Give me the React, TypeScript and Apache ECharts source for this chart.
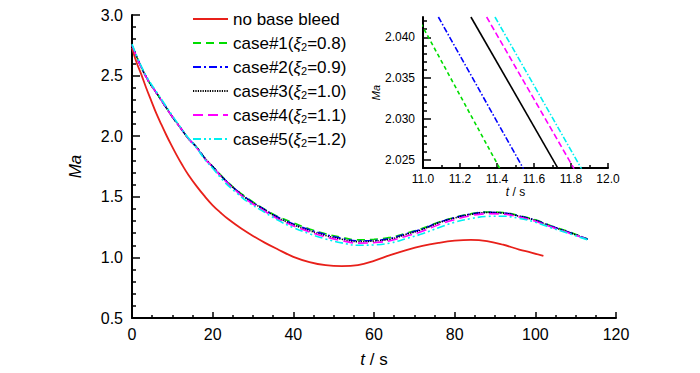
import React, { useEffect, useRef } from "react";
import * as echarts from "echarts";

const FONT = "'Liberation Sans', Arial, sans-serif";

const names = [
  "no base bleed",
  "case#1(ξ2=0.8)",
  "case#2(ξ2=0.9)",
  "case#3(ξ2=1.0)",
  "case#4(ξ2=1.1)",
  "case#5(ξ2=1.2)",
];
const colors = ["#e8201a", "#00dd00", "#0000ff", "#000000", "#ff00ff", "#00f0f0"];
const dashes: any[] = ["solid", [8, 5], [8, 3, 2, 3], [1.2, 1.2], [10, 5], [8, 3, 2, 3, 2, 3]];

const redT = [0, 1, 2.3, 3.5, 4.8, 6, 7.3, 8.5, 9.7, 11, 12.5, 14, 16, 18, 20, 22, 24, 27, 30, 33, 36, 40, 44, 48, 52, 56, 60, 64, 68, 72, 76, 80, 84, 88, 92, 96, 99, 102];
const redMa = [2.73, 2.62, 2.51, 2.4, 2.29, 2.19, 2.095, 2.01, 1.93, 1.848, 1.76, 1.68, 1.588, 1.505, 1.43, 1.368, 1.312, 1.24, 1.177, 1.12, 1.069, 1.005, 0.962, 0.936, 0.928, 0.937, 0.972, 1.018, 1.06, 1.095, 1.12, 1.138, 1.145, 1.135, 1.105, 1.065, 1.04, 1.012];

const caseT = [0, 2, 4, 6, 8, 10, 12, 14, 16, 18, 20, 23, 26, 29, 32, 36, 40, 44, 48, 52, 56, 60, 64, 68, 72, 76, 80, 84, 88, 92, 96, 100, 104, 108, 113];
const case1 = [2.75, 2.59, 2.46, 2.36, 2.26, 2.16, 2.07, 1.98, 1.91, 1.82, 1.75, 1.645, 1.555, 1.48, 1.415, 1.34, 1.285, 1.235, 1.195, 1.165, 1.145, 1.15, 1.165, 1.2, 1.24, 1.29, 1.33, 1.36, 1.375, 1.37, 1.345, 1.31, 1.26, 1.215, 1.15];
const case2 = [2.75, 2.59, 2.46, 2.36, 2.26, 2.16, 2.07, 1.98, 1.91, 1.82, 1.75, 1.642, 1.552, 1.475, 1.412, 1.335, 1.275, 1.228, 1.188, 1.157, 1.137, 1.14, 1.157, 1.195, 1.235, 1.288, 1.328, 1.358, 1.372, 1.367, 1.342, 1.307, 1.257, 1.212, 1.15];
const case3 = [2.75, 2.59, 2.46, 2.36, 2.26, 2.16, 2.07, 1.98, 1.91, 1.82, 1.75, 1.64, 1.55, 1.47, 1.41, 1.33, 1.27, 1.22, 1.18, 1.15, 1.13, 1.135, 1.15, 1.19, 1.23, 1.285, 1.325, 1.355, 1.37, 1.365, 1.34, 1.305, 1.255, 1.21, 1.15];
const case4 = [2.75, 2.59, 2.46, 2.36, 2.26, 2.16, 2.07, 1.98, 1.905, 1.815, 1.745, 1.635, 1.543, 1.462, 1.4, 1.32, 1.26, 1.21, 1.168, 1.138, 1.118, 1.122, 1.138, 1.175, 1.215, 1.27, 1.312, 1.345, 1.36, 1.357, 1.333, 1.298, 1.25, 1.205, 1.148];
const case5 = [2.76, 2.6, 2.47, 2.37, 2.27, 2.17, 2.075, 1.985, 1.905, 1.81, 1.735, 1.62, 1.53, 1.45, 1.39, 1.31, 1.245, 1.195, 1.152, 1.12, 1.1, 1.103, 1.118, 1.155, 1.195, 1.245, 1.29, 1.32, 1.338, 1.34, 1.322, 1.29, 1.243, 1.2, 1.145];

// inset lines: time at top edge and bottom edge of the inset window
const insetT1 = [10.97, 11.416];
const insetT2 = [11.083, 11.543];
const insetT3 = [11.259, 11.731];
const insetT4 = [11.344, 11.817];
const insetT5 = [11.389, 11.857];
const insetMa = [2.0425, 2.0239];

const insetMajorY = [2.025, 2.03, 2.035, 2.04];
const insetMinorY = [2.024, 2.026, 2.027, 2.028, 2.029, 2.031, 2.032, 2.033, 2.034, 2.036, 2.037, 2.038, 2.039, 2.041, 2.042];

const zip = (a: number[], b: number[]) => a.map((v, i) => [v, b[i]]);

export default function App() {
  const ref = useRef<HTMLDivElement>(null);
  useEffect(() => {
    const chart = echarts.init(ref.current!, null, { renderer: "svg" });
    const mainData = [zip(redT, redMa), zip(caseT, case1), zip(caseT, case2), zip(caseT, case3), zip(caseT, case4), zip(caseT, case5)];
    const insetData = [insetT1, insetT2, insetT3, insetT4, insetT5].map((t) => zip(t, insetMa));
    const insetDash: any[] = [[4, 3], [6, 2, 1.5, 2], "solid", [6, 3], [6, 2, 1.5, 2]];
    const axisLine = { show: true, lineStyle: { color: "#000", width: 2 } };
    const lbl = { color: "#000", fontFamily: FONT };
    const series: any[] = [];
    mainData.forEach((d, i) => {
      series.push({
        name: names[i],
        type: "line",
        data: d,
        xAxisIndex: 0,
        yAxisIndex: 0,
        symbol: "none",
        showSymbol: false,
        smooth: 0.4,
        lineStyle: { color: colors[i], width: i === 0 ? 1.8 : 1.6, type: dashes[i] },
        itemStyle: { color: colors[i] },
        z: i === 0 ? 2 : 3 + i,
      });
    });
    insetData.forEach((d, i) => {
      series.push({
        name: "inset" + (i + 1),
        type: "line",
        data: d,
        xAxisIndex: 1,
        yAxisIndex: 1,
        symbol: "none",
        showSymbol: false,
        clip: true,
        lineStyle: { color: colors[i + 1], width: 1.6, type: insetDash[i] },
        itemStyle: { color: colors[i + 1] },
      });
    });
    chart.setOption({
      animation: false,
      backgroundColor: "#fff",
      textStyle: { fontFamily: FONT },
      legend: {
        data: names,
        orient: "vertical",
        left: 187,
        top: 5,
        itemWidth: 35,
        itemHeight: 14,
        itemGap: 6,
        itemStyle: { color: "transparent", borderWidth: 0, opacity: 0 },
        textStyle: {
          color: "#000",
          fontSize: 17,
          lineHeight: 18,
          fontFamily: FONT,
          rich: {
            xi: { fontStyle: "italic", fontSize: 17, lineHeight: 18, fontFamily: FONT, color: "#000" },
            sub: { fontSize: 11, lineHeight: 18, padding: [7, 0, 0, 0], fontFamily: FONT, color: "#000" },
          },
        },
        formatter: (n: string) => n.replace("ξ2", "{xi|ξ}{sub|2}"),
      },
      grid: [
        { left: 132, right: 84, top: 15, bottom: 54, containLabel: false },
        { left: 423, right: 92, top: 17, bottom: 205, containLabel: false },
      ],
      xAxis: [
        {
          type: "value",
          gridIndex: 0,
          min: 0,
          max: 120,
          interval: 20,
          axisLine,
          axisTick: { show: true, inside: true, length: 6, lineStyle: { color: "#000", width: 1.5 } },
          minorTick: { show: true, splitNumber: 4, length: 3, lineStyle: { color: "#000", width: 1.5 } },
          splitLine: { show: false },
          axisLabel: { ...lbl, fontSize: 16, margin: 8 },
          name: "{i|t} / s",
          nameLocation: "middle",
          nameGap: 33,
          nameTextStyle: { color: "#000", fontSize: 17, fontFamily: FONT, rich: { i: { fontStyle: "italic", fontSize: 17, fontFamily: FONT } } },
        },
        {
          type: "value",
          gridIndex: 1,
          min: 11,
          max: 12,
          interval: 0.2,
          axisLine,
          axisTick: { show: true, inside: true, length: 5, lineStyle: { color: "#000", width: 1.5 } },
          minorTick: { show: true, splitNumber: 2, length: 3, lineStyle: { color: "#000", width: 1.5 } },
          splitLine: { show: false },
          axisLabel: { ...lbl, fontSize: 12, margin: 5, formatter: (v: number) => v.toFixed(1) },
          name: "{i|t} / s",
          nameLocation: "middle",
          nameGap: 18,
          nameTextStyle: { color: "#000", fontSize: 12, fontFamily: FONT, rich: { i: { fontStyle: "italic", fontSize: 12, fontFamily: FONT } } },
        },
      ],
      yAxis: [
        {
          type: "value",
          gridIndex: 0,
          min: 0.5,
          max: 3.0,
          interval: 0.5,
          axisLine,
          axisTick: { show: true, inside: true, length: 8, lineStyle: { color: "#000", width: 1.5 } },
          minorTick: { show: true, splitNumber: 5, length: 4, lineStyle: { color: "#000", width: 1.5 } },
          splitLine: { show: false },
          axisLabel: { ...lbl, fontSize: 16, margin: 9, formatter: (v: number) => v.toFixed(1) },
          name: "Ma",
          nameLocation: "middle",
          nameGap: 48,
          nameTextStyle: { color: "#000", fontSize: 17, fontStyle: "italic", fontFamily: FONT },
        },
        {
          type: "value",
          gridIndex: 1,
          position: "left",
          min: 2.024,
          max: 2.0425,
          axisLine,
          axisTick: { show: true, inside: true, length: 4, customValues: insetMinorY, lineStyle: { color: "#000", width: 1.5 } },
          splitLine: { show: false },
          axisLabel: { ...lbl, fontSize: 12, margin: 8, customValues: insetMajorY, formatter: (v: number) => v.toFixed(3) },
          name: "Ma",
          nameLocation: "middle",
          nameGap: 39,
          nameTextStyle: { color: "#000", fontSize: 11, fontStyle: "italic", fontFamily: FONT },
        },
        {
          type: "value",
          gridIndex: 1,
          position: "left",
          offset: 0,
          min: 2.024,
          max: 2.0425,
          axisLine: { show: false },
          axisTick: { show: true, inside: true, length: 8, customValues: insetMajorY, lineStyle: { color: "#000", width: 1.5 } },
          splitLine: { show: false },
          axisLabel: { show: false },
        },
      ],
      series,
    });
    return () => chart.dispose();
  }, []);
  return <div ref={ref} style={{ width: 700, height: 373, position: "absolute", left: 0, top: 0 }} />;
}
